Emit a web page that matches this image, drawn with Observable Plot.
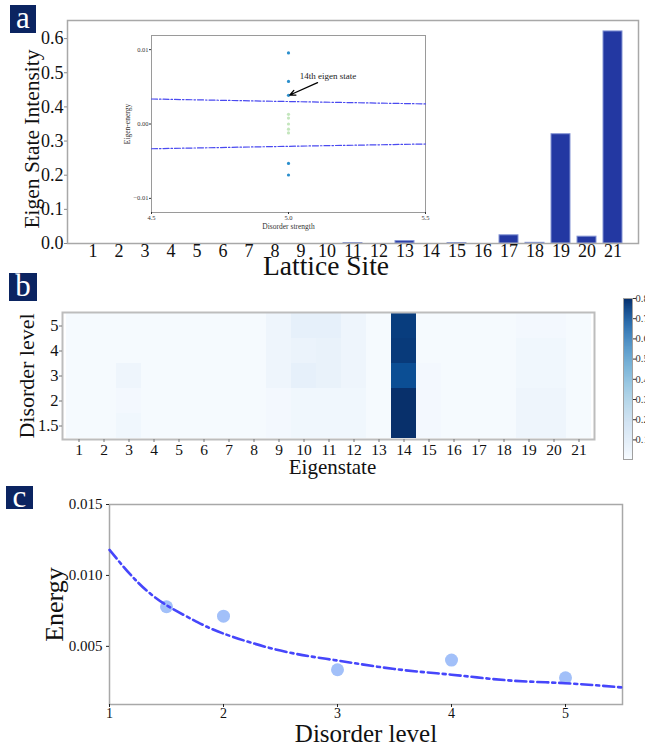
<!DOCTYPE html>
<html><head><meta charset="utf-8">
<script src="https://cdn.jsdelivr.net/npm/d3@7"></script>
<script src="https://cdn.jsdelivr.net/npm/@observablehq/plot@0.6"></script>
<style>
body{margin:0;background:#fff;overflow:hidden}
#root{position:relative;width:645px;height:746px;overflow:hidden;font-family:"Liberation Serif",serif;background:#fff}
#root svg, #root svg text, #root svg g{font-family:"Liberation Serif",serif !important;font-variant-numeric:normal !important}
.tag{position:absolute;background:#0b2461;color:#fff;font-family:"Liberation Serif",serif;font-size:31px;text-align:center}
</style></head><body><div id="root"></div>
<script>
// ---------- data ----------
const sites = [1,2,3,4,5,6,7,8,9,10,11,12,13,14,15,16,17,18,19,20,21];
const intensity = [0,0,0,0,0,0,0,0,0,0,0.001,0,0.007,0,0.001,0,0.024,0.002,0.32,0.02,0.621];
const intensityTicks = [0,0.1,0.2,0.3,0.4,0.5,0.6];

const insetStrength = 5.0;
const blueEnergies = [0.00956, 0.00573, 0.00385, -0.0053, -0.00686];
const greenEnergies = [0.0013, 0.0008, 0.0, -0.0007, -0.0012];
const boundX = [4.5, 5.0, 5.5];
const upperBound = [0.00336, 0.00302, 0.00270];
const lowerBound = [-0.00333, -0.00300, -0.00269];
const insetTicksX = [4.5, 5.0, 5.5];
const insetTicksY = [-0.01, 0, 0.01];
const annotation = [{text:"14th eigen state", tx:5.041, ty:0.0065, x1:5.106, y1:0.00556, x2:5.005, y2:0.0039}];

const eigenstates = [1,2,3,4,5,6,7,8,9,10,11,12,13,14,15,16,17,18,19,20,21];
const levels = ["5","4","3","2","1.5"];
const heat5  = [0.01,0.01,0.01,0.01,0.01,0.01,0.01,0.01,0.04,0.07,0.07,0.04,0.01,0.76,0.01,0.01,0.01,0.01,0.02,0.02,0.01];
const heat4  = [0.01,0.01,0.01,0.01,0.01,0.01,0.01,0.01,0.04,0.05,0.06,0.04,0.01,0.77,0.01,0.01,0.01,0.01,0.03,0.03,0.01];
const heat3  = [0.01,0.01,0.04,0.01,0.01,0.01,0.01,0.01,0.04,0.07,0.06,0.04,0.01,0.71,0.02,0.01,0.01,0.01,0.03,0.03,0.01];
const heat2  = [0.01,0.01,0.02,0.01,0.01,0.01,0.01,0.01,0.02,0.03,0.03,0.03,0.01,0.80,0.02,0.01,0.01,0.01,0.04,0.04,0.01];
const heat15 = [0.01,0.01,0.03,0.01,0.01,0.01,0.01,0.01,0.02,0.03,0.03,0.03,0.01,0.80,0.02,0.01,0.01,0.01,0.04,0.04,0.01];
const colorDomain = [0.003, 0.8];
const colorbarTicks = [0.1,0.2,0.3,0.4,0.5,0.6,0.7,0.8];

const disorder = [1.5, 2, 3, 4, 5];
const energy = [0.00779, 0.00713, 0.00335, 0.00403, 0.00278];
const fitX = [1, 1.25, 1.5, 1.75, 2, 2.5, 3, 3.5, 4, 4.5, 5, 5.5];
const fitY = [0.0118, 0.0095, 0.0079, 0.0068, 0.0059, 0.0047, 0.0040, 0.0034, 0.0030, 0.0026, 0.0024, 0.0021];
const energyTicks = [0.005, 0.010, 0.015];
const disorderTicks = [1, 2, 3, 4, 5];

// ---------- helpers ----------
const root = document.getElementById("root");
const serif = "Liberation Serif";
function place(el, left, top) {
  el.style.position = "absolute";
  el.style.left = left + "px";
  el.style.top = top + "px";
  el.style.overflow = "visible";
  root.appendChild(el);
}
function tag(letter, left, top, w, h) {
  const d = document.createElement("div");
  d.className = "tag";
  d.textContent = letter;
  d.style.left = left + "px"; d.style.top = top + "px";
  d.style.width = w + "px"; d.style.height = h + "px";
  d.style.lineHeight = (h - 2) + "px";
  root.appendChild(d);
}
const ax = {fontFamily: serif, fontVariant: "normal", fill: "#111", label: null};
const xLabel = (t, opts) => Plot.text([t], {text: d => d, frameAnchor: "bottom", textAnchor: "middle", lineAnchor: "middle", fill: "#111", fontFamily: serif, ...opts});
const yLabel = (t, opts) => Plot.text([t], {text: d => d, frameAnchor: "left", textAnchor: "middle", lineAnchor: "middle", rotate: -90, fill: "#111", fontFamily: serif, ...opts});

// ---------- panel a ----------
const barData = sites.map((s, i) => ({site: String(s), v: intensity[i]})).filter(d => d.v > 0);
const plotA = Plot.plot({
  width: 645, height: 282, marginLeft: 67, marginRight: 7, marginTop: 20, marginBottom: 39,
  style: {fontFamily: serif, color: "#222", background: "transparent"},
  x: {domain: sites.map(String), padding: 0.27, axis: null},
  y: {domain: [0, 0.653], axis: null},
  marks: [
    Plot.barY(barData, {x: "site", y: "v", fill: "#2338a2", stroke: "#8494d4", strokeWidth: 1}),
    Plot.frame({stroke: "#a8a8a8", strokeWidth: 1.5}),
    Plot.axisX({...ax, tickSize: 0, tickPadding: 1, fontSize: 18}),
    Plot.axisY({...ax, ticks: intensityTicks, tickFormat: d3.format(".1f"), tickSize: 3, tickPadding: 1, fontSize: 18, stroke: "#888"}),
    xLabel("Lattice Site", {dx: -27, dy: 23, fontSize: 27.5}),
    yLabel("Eigen State Intensity", {dx: -35, dy: 7, fontSize: 21.5})
  ]
});
place(plotA, 0, 0);

// ---------- inset ----------
const blueDots = blueEnergies.map(e => ({x: insetStrength, y: e}));
const greenDots = greenEnergies.map(e => ({x: insetStrength, y: e}));
const upperLine = boundX.map((x, i) => ({x, y: upperBound[i]}));
const lowerLine = boundX.map((x, i) => ({x, y: lowerBound[i]}));
const plotInset = Plot.plot({
  width: 340, height: 210, marginLeft: 51, marginRight: 15, marginTop: 10, marginBottom: 23,
  style: {fontFamily: serif, color: "#333", background: "transparent"},
  x: {domain: [4.5, 5.5], axis: null},
  y: {domain: [-0.0119, 0.0119], axis: null},
  marks: [
    Plot.frame({fill: "white", stroke: "#9a9a9a", strokeWidth: 1}),
    Plot.line(upperLine, {x: "x", y: "y", stroke: "#4a4af0", strokeWidth: 1.2, strokeDasharray: "6,2,1.5,2"}),
    Plot.line(lowerLine, {x: "x", y: "y", stroke: "#4a4af0", strokeWidth: 1.2, strokeDasharray: "6,2,1.5,2"}),
    Plot.dot(greenDots, {x: "x", y: "y", r: 1.6, fill: "#c4e6bd", stroke: "none"}),
    Plot.dot(blueDots, {x: "x", y: "y", r: 1.6, fill: "#2b8fcd", stroke: "none"}),
    Plot.arrow(annotation, {x1: "x1", y1: "y1", x2: "x2", y2: "y2", stroke: "black", strokeWidth: 1.3, headLength: 7, headAngle: 50}),
    Plot.text(annotation, {x: "tx", y: "ty", text: "text", textAnchor: "start", fontSize: 9, fill: "#222", fontFamily: serif}),
    Plot.axisX({...ax, fill: "#333", ticks: insetTicksX, tickFormat: d3.format(".1f"), tickSize: 2, tickPadding: 1, fontSize: 6.5}),
    Plot.axisY({...ax, fill: "#333", ticks: insetTicksY, tickFormat: d => d === 0 ? "0.00" : d3.format(".2f")(d), tickSize: 2, tickPadding: 1, fontSize: 6.5}),
    xLabel("Disorder strength", {dy: 14, fontSize: 7.5, fill: "#333"}),
    yLabel("Eigen-energy", {dx: -24, fontSize: 7.5, fill: "#333"})
  ]
});
place(plotInset, 100, 25);

// ---------- panel b ----------
const heatRows = [heat5, heat4, heat3, heat2, heat15];
const cells = [];
heatRows.forEach((row, r) => row.forEach((v, c) => cells.push({state: String(eigenstates[c]), level: levels[r], v})));
const plotB = Plot.plot({
  width: 600, height: 210, marginLeft: 62, marginRight: 6, marginTop: 42, marginBottom: 41,
  style: {fontFamily: serif, color: "#222", background: "transparent"},
  x: {domain: eigenstates.map(String), padding: 0, axis: null},
  y: {domain: levels, padding: 0, axis: null},
  color: {type: "linear", domain: colorDomain, interpolate: d3.interpolateBlues},
  marks: [
    Plot.cell(cells, {x: "state", y: "level", fill: "v", inset: 0}),
    Plot.frame({stroke: "#bdbdbd", strokeWidth: 2}),
    Plot.axisX({...ax, tickSize: 3, tickPadding: 1, fontSize: 15.5, stroke: "#777"}),
    Plot.axisY({...ax, tickSize: 3, tickPadding: 1, fontSize: 16.5, stroke: "#777"}),
    xLabel("Eigenstate", {dx: 4, dy: 28, fontSize: 21}),
    yLabel("Disorder level", {dx: -36, fontSize: 22})
  ]
});
place(plotB, 0, 270);

// ---------- colorbar ----------
const steps = d3.range(160).map(i => {
  const a = colorDomain[0] + (colorDomain[1] - colorDomain[0]) * i / 160;
  const b = colorDomain[0] + (colorDomain[1] - colorDomain[0]) * (i + 1) / 160;
  return {a, b, m: (a + b) / 2};
});
const plotCbar = Plot.plot({
  width: 80, height: 180, marginLeft: 23, marginRight: 48, marginTop: 8, marginBottom: 11,
  style: {fontFamily: serif, color: "#333", background: "transparent"},
  x: {domain: [0, 1], axis: null},
  y: {domain: colorDomain, axis: null},
  color: {type: "linear", domain: colorDomain, interpolate: d3.interpolateBlues},
  marks: [
    Plot.rect(steps, {x1: 0, x2: 1, y1: "a", y2: "b", fill: "m"}),
    Plot.frame({stroke: "#a0a0a0", strokeWidth: 1}),
    Plot.axisY({...ax, fill: "#333", anchor: "right", ticks: colorbarTicks, tickFormat: d3.format(".1f"), tickSize: 3, tickPadding: 0, fontSize: 10.5})
  ]
});
place(plotCbar, 600, 290);

// ---------- panel c ----------
const pts = disorder.map((x, i) => ({x, y: energy[i]}));
const fit = fitX.map((x, i) => ({x, y: fitY[i]}));
const plotC = Plot.plot({
  width: 645, height: 266, marginLeft: 109, marginRight: 23, marginTop: 24, marginBottom: 42,
  style: {fontFamily: serif, color: "#222", background: "transparent"},
  x: {domain: [1, 5.5], axis: null},
  y: {domain: [0.0009, 0.015], axis: null},
  marks: [
    Plot.frame({stroke: "#a8a8a8", strokeWidth: 1.5}),
    Plot.dot(pts, {x: "x", y: "y", r: 6.5, fill: "#a2c0f9", stroke: "none"}),
    Plot.line(fit, {x: "x", y: "y", curve: "natural", stroke: "#4646fb", strokeWidth: 2.6, strokeDasharray: "11,4,3,4"}),
    Plot.axisX({...ax, ticks: disorderTicks, tickFormat: d3.format("d"), tickSize: 3, tickPadding: 1, fontSize: 14}),
    Plot.axisY({...ax, ticks: energyTicks, tickFormat: d3.format(".3f"), tickSize: 3, tickPadding: 4, fontSize: 15}),
    xLabel("Disorder level", {dy: 29, fontSize: 25}),
    yLabel("Energy", {dx: -55, fontSize: 26})
  ]
});
place(plotC, 0, 480);

// ---------- panel tags ----------
tag("a", 10, 5, 26, 28);
tag("b", 9, 273, 28, 28);
tag("c", 6, 486, 27, 23);
</script>
</body></html>
